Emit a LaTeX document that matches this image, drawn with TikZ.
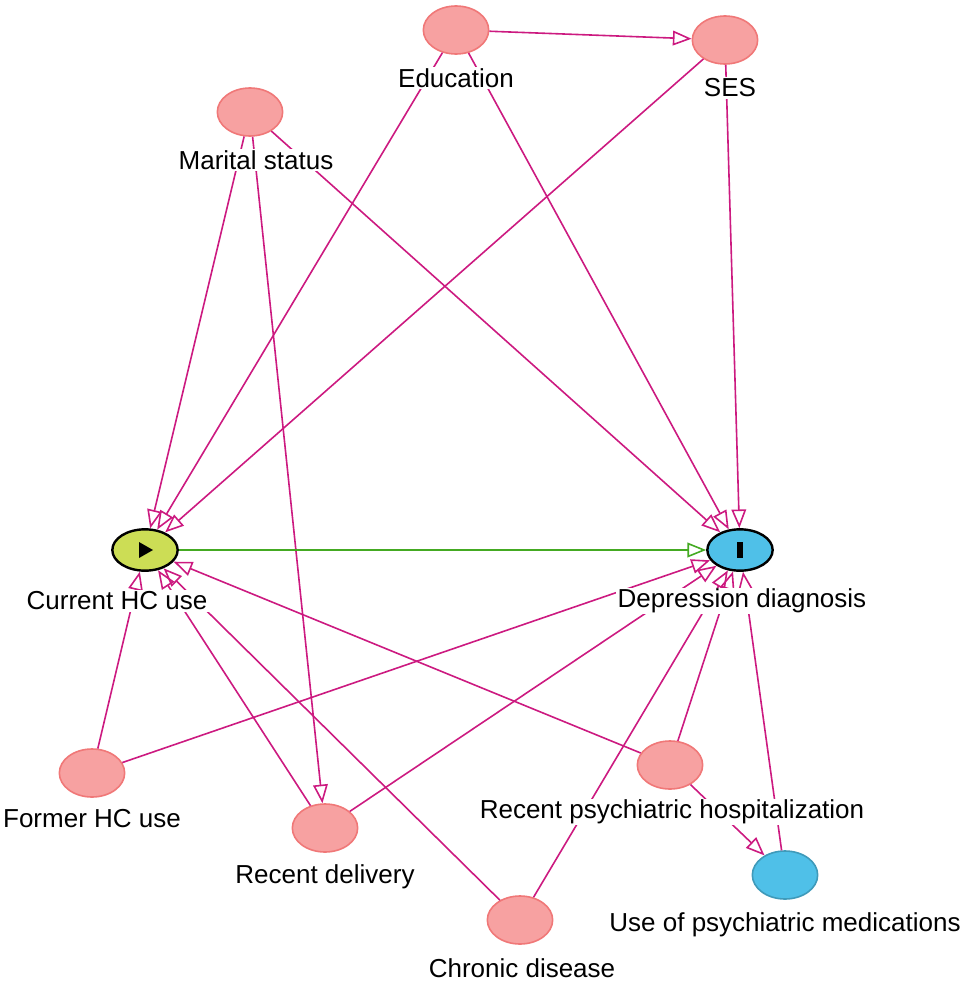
\documentclass[tikz,border=0pt]{standalone}
\usepackage{fontspec}
\setmainfont{Liberation Sans}
\usetikzlibrary{arrows.meta,calc,positioning,shapes.geometric}
\definecolor{adjpink}{HTML}{F7A1A1}
\definecolor{adjline}{HTML}{F07878}
\definecolor{edgemag}{HTML}{CC1A80}
\definecolor{outblue}{HTML}{4FC0E8}
\definecolor{expgreen}{HTML}{CCDD55}
\definecolor{causgreen}{HTML}{44AA22}
\tikzstyle{var}=[draw=adjline, fill=adjpink, ellipse, minimum width=49pt, minimum height=36pt, inner sep=0, line width=1.2pt]
\tikzstyle{outv}=[var, draw=outblue!80!black, fill=outblue]
\tikzstyle{expo}=[draw=black, fill=expgreen, ellipse, minimum width=49pt, minimum height=31pt, inner sep=0, line width=1.8pt]
\tikzstyle{outc}=[expo, fill=outblue]
\tikzstyle{lbl}=[font=\fontsize{19.5}{23}\selectfont, inner sep=1pt, fill=white]
\tikzstyle{edge}=[draw=edgemag, line width=1.2pt, -{Triangle[open,length=14pt,width=11pt]}]
\tikzstyle{causal}=[edge, draw=causgreen]
\begin{document}
\begin{tikzpicture}[x=0.75pt,y=-0.75pt]
        \useasboundingbox (0,0) rectangle (969,981);
        % variables
        \node[var] (edu) at (456,30) {};
        \node[var] (ses) at (725,40) {};
        \node[var] (mar) at (250,112) {};
        \node[expo] (cur) at (145,550) {};
        \node[outc] (dep) at (740,550) {};
        \node[var] (for) at (92,773) {};
        \node[var] (del) at (325,828) {};
        \node[var] (chr) at (520,920) {};
        \node[var] (hos) at (670,765) {};
        \node[outv] (med) at (785,875) {};
        % markers
        \fill ($(cur)+(-6,-8)$) -- ($(cur)+(-6,8)$) -- ($(cur)+(8,0)$) -- cycle;
        \fill ($(dep)+(-3,-8)$) rectangle ($(dep)+(3,8)$);
        % edges
        \draw[edge] (edu) -- (ses);
        \draw[edge] (edu) -- (cur);
        \draw[edge] (edu) -- (dep);
        \draw[edge] (ses) -- (cur);
        \draw[edge] (ses) -- (dep);
        \draw[edge] (mar) -- (cur);
        \draw[edge] (mar) -- (dep);
        \draw[edge] (mar) -- (del);
        \draw[causal] (cur) -- (dep);
        \draw[edge] (for) -- (cur);
        \draw[edge] (for) -- (dep);
        \draw[edge] (del) -- (cur);
        \draw[edge] (del) -- (dep);
        \draw[edge] (chr) -- (cur);
        \draw[edge] (chr) -- (dep);
        \draw[edge] (hos) -- (cur);
        \draw[edge] (hos) -- (dep);
        \draw[edge] (hos) -- (med);
        \draw[edge] (med) -- (dep);
        % labels
        \node[lbl] (eduL) at (456,78) {Education};
        \node[lbl] (sesL) at (730,88) {SES};
        \node[lbl] (marL) at (256,160) {Marital status};
        \node[lbl] (curL) at (117,601) {Current HC use};
        \node[lbl] (depL) at (742,601) {Depression diagnosis};
        \node[lbl] (forL) at (92,819) {Former HC use};
        \node[lbl] (delL) at (325,877) {Recent delivery};
        \node[lbl] (chrL) at (522,968) {Chronic disease};
        \node[lbl] (hosL) at (672,812) {Recent psychiatric hospitalization};
        \node[lbl] (medL) at (785,925) {Use of psychiatric medications};
    \end{tikzpicture}
\end{document}
